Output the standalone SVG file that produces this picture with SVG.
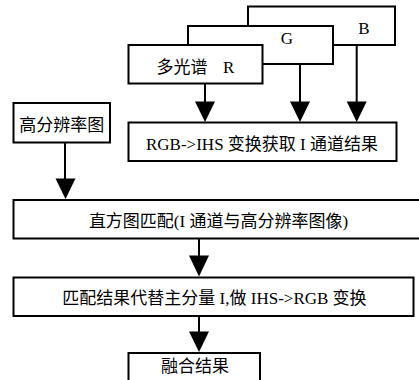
<svg xmlns="http://www.w3.org/2000/svg" width="419" height="380" viewBox="0 0 419 380">
<defs>
<style>
.box{fill:#fff;stroke:#000;stroke-width:2}
.ln{stroke:#000;stroke-width:2;fill:none}
.ah{fill:#000}
text{font-family:"Liberation Serif","Noto Sans CJK SC",serif;font-size:17px;fill:#000}
.c{text-anchor:middle}
</style>
</defs>
<rect width="419" height="380" fill="#fff"/>
<g id="node-B"><rect class="box" x="248" y="6.5" width="147" height="38.5"/><text class="c" x="364" y="33.5">B</text></g>
<g id="node-G"><rect class="box" x="188" y="26" width="145" height="38"/><text class="c" x="287" y="43.5">G</text></g>
<g id="node-R"><rect class="box" x="128.5" y="45" width="134" height="38.5"/><text x="156.5" y="73">多光谱<tspan x="223">R</tspan></text></g>
<g id="node-hr"><rect class="box" x="13.5" y="103" width="96.5" height="39.5"/><text class="c" x="61.7" y="131">高分辨率图</text></g>
<g id="node-rgbihs"><rect class="box" x="128.5" y="122.5" width="268" height="38.5"/><text class="c" x="262" y="149.5">RGB-&gt;IHS 变换获取 I 通道结果</text></g>
<g id="node-match"><rect class="box" x="13.5" y="200" width="412" height="38.5"/><text class="c" x="218.5" y="226.5">直方图匹配(I 通道与高分辨率图像)</text></g>
<g id="node-replace"><rect class="box" x="13.5" y="277.5" width="400" height="38.5"/><text class="c" x="214.5" y="303.5">匹配结果代替主分量 I,做 IHS-&gt;RGB 变换</text></g>
<g id="node-fuse"><rect class="box" x="128.5" y="353" width="131.5" height="40"/><text class="c" x="195" y="372">融合结果</text></g>
<g id="connectors">
<line class="ln" x1="205" y1="83.5" x2="205" y2="103"/><polygon class="ah" points="195,101.5 215,101.5 205,122"/>
<line class="ln" x1="300" y1="64" x2="300" y2="103"/><polygon class="ah" points="290,101.5 310,101.5 300,122"/>
<line class="ln" x1="356.7" y1="45" x2="356.7" y2="103"/><polygon class="ah" points="346.7,101.5 366.7,101.5 356.7,122"/>
<line class="ln" x1="65" y1="142.5" x2="65" y2="180"/><polygon class="ah" points="55.5,178.5 75.5,178.5 65.5,199"/>
<line class="ln" x1="199" y1="238.5" x2="199" y2="257"/><polygon class="ah" points="189,255.5 209,255.5 199,276.5"/>
<line class="ln" x1="199" y1="316" x2="199" y2="333"/><polygon class="ah" points="189,331.5 209,331.5 199,352"/>
</g>
</svg>
